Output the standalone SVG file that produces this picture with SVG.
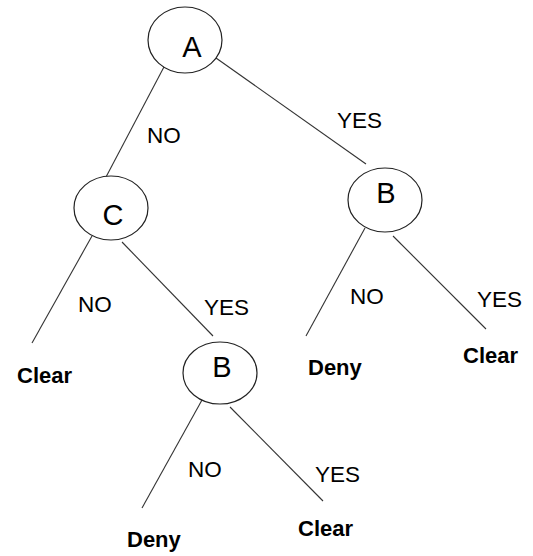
<svg xmlns="http://www.w3.org/2000/svg" width="533" height="556" viewBox="0 0 533 556">
<style>
.node{fill:#fff;stroke:#222;stroke-width:1.2}
.edge{stroke:#333;stroke-width:1.1;fill:none}
.letter{font-family:"Liberation Sans",Arial,sans-serif;font-size:29px;fill:#000}
.lbl{font-family:"Liberation Sans",Arial,sans-serif;font-size:22.5px;fill:#000}
.leaf{font-family:"Liberation Sans",Arial,sans-serif;font-size:22px;font-weight:bold;fill:#000}
</style>
<rect width="533" height="556" fill="#fff"/>
<g id="connectors">
<line class="edge" x1="165" y1="65" x2="106" y2="177"/>
<line class="edge" x1="216" y1="58" x2="366" y2="164"/>
<line class="edge" x1="92" y1="236" x2="32" y2="343"/>
<line class="edge" x1="122" y1="242" x2="213" y2="336"/>
<line class="edge" x1="365" y1="228" x2="306" y2="336"/>
<line class="edge" x1="393" y1="236" x2="486" y2="329"/>
<line class="edge" x1="202" y1="400" x2="142" y2="508"/>
<line class="edge" x1="230" y1="407" x2="323" y2="501"/>
<text class="lbl" x="147" y="143">NO</text>
<text class="lbl" x="337" y="128">YES</text>
<text class="lbl" x="78" y="312">NO</text>
<text class="lbl" x="204" y="315">YES</text>
<text class="lbl" x="350" y="304">NO</text>
<text class="lbl" x="477" y="307">YES</text>
<text class="lbl" x="188" y="477">NO</text>
<text class="lbl" x="315" y="482">YES</text>
</g>
<g id="nodeA">
<ellipse class="node" cx="185" cy="40" rx="37" ry="33"/>
<text class="letter" x="192" y="57" text-anchor="middle">A</text>
</g>
<g id="nodeC">
<ellipse class="node" cx="111" cy="208" rx="37" ry="32"/>
<text class="letter" x="113" y="225" text-anchor="middle">C</text>
</g>
<g id="nodeB1">
<ellipse class="node" cx="385" cy="200" rx="37" ry="32"/>
<text class="letter" x="386" y="203" text-anchor="middle">B</text>
</g>
<g id="nodeB2">
<ellipse class="node" cx="220" cy="373" rx="37" ry="31"/>
<text class="letter" x="222" y="377" text-anchor="middle">B</text>
</g>
<g id="leafClear1"><text class="leaf" x="17" y="383">Clear</text></g>
<g id="leafDeny1"><text class="leaf" x="308" y="375">Deny</text></g>
<g id="leafClear2"><text class="leaf" x="463" y="363">Clear</text></g>
<g id="leafDeny2"><text class="leaf" x="127" y="547">Deny</text></g>
<g id="leafClear3"><text class="leaf" x="298" y="536">Clear</text></g>
</svg>
